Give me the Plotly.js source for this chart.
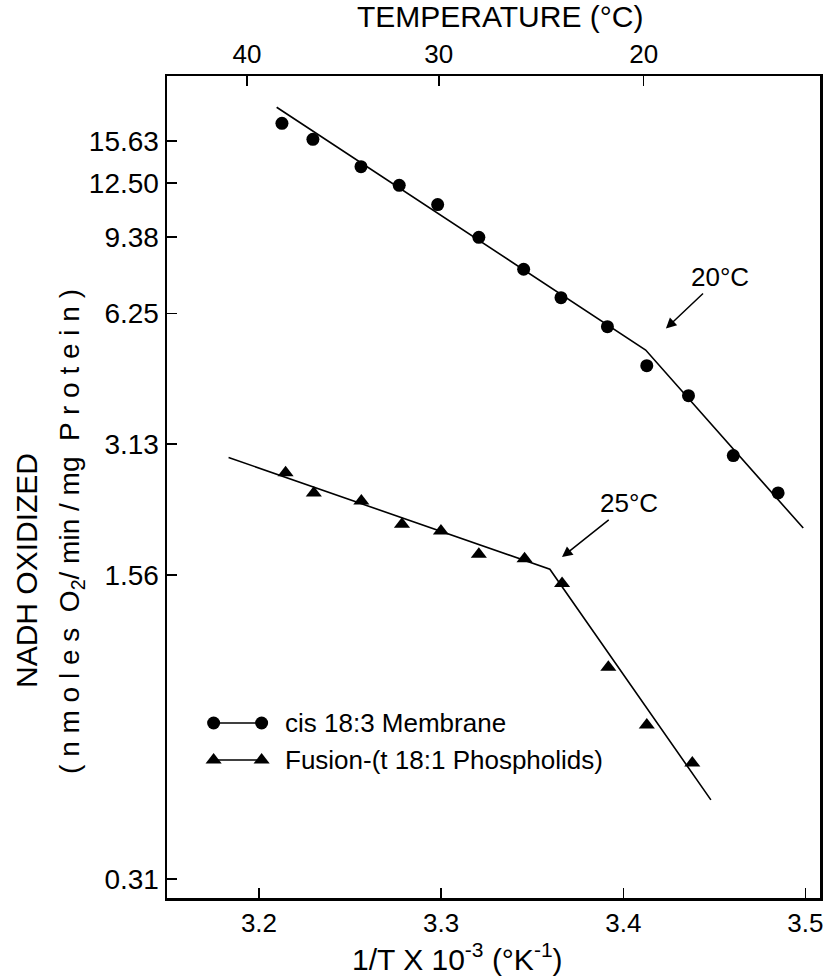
<!DOCTYPE html>
<html>
<head>
<meta charset="utf-8">
<script src="https://cdn.plot.ly/plotly-3.0.1.min.js"></script>
<style>html,body{margin:0;padding:0;background:#fff;}</style>
</head>
<body>
<div id="chart" style="width:835px;height:977px;"></div>
<script>
// ---- data (x = 1/T x 10^3, y = NADH oxidized rate) ----
var cisX = [3.2126, 3.2296, 3.2560, 3.2770, 3.2981, 3.3207, 3.3453, 3.3658, 3.3913, 3.4129, 3.4358, 3.4604, 3.4850];
var cisY = [17.17, 15.77, 13.64, 12.35, 11.15, 9.37, 7.91, 6.80, 5.83, 4.74, 4.04, 2.94, 2.41];
var cisFitX = [3.2097, 3.4123, 3.4988];
var cisFitY = [18.70, 5.15, 2.00];

var fusX = [3.2146, 3.2301, 3.2562, 3.2785, 3.2999, 3.3207, 3.3458, 3.3664, 3.3918, 3.4129, 3.4379];
var fusY = [2.685, 2.41, 2.31, 2.04, 1.97, 1.74, 1.70, 1.49, 0.955, 0.703, 0.574];
var fusFitX = [3.1833, 3.3597, 3.4481];
var fusFitY = [2.91, 1.607, 0.472];

var xTickVals = [3.2, 3.3, 3.4, 3.5];
var xTickText = ['3.2', '3.3', '3.4', '3.5'];
var yTickVals = [0.31, 1.56, 3.13, 6.25, 9.38, 12.50, 15.63];
var yTickText = ['0.31', '1.56', '3.13', '6.25', '9.38', '12.50', '15.63'];
var tempC = [40, 30, 20];
var tempText = ['40', '30', '20'];
var seriesNames = ['cis 18:3 Membrane', 'Fusion-(t 18:1 Phospholids)'];
var breakLabels = ['20°C', '25°C'];
var breakX = [3.4226, 3.3655];
var breakY = [5.73, 1.703];

// ---- build ----
var topTickVals = tempC.map(function (t) { return 1000 / (t + 273.15); });
var xRange = [3.1495, 3.508];
var FONT = 'Liberation Sans, Arial, sans-serif';

var traces = [
  {x: cisFitX, y: cisFitY, mode: 'lines', line: {color: '#000', width: 1.6}, hoverinfo: 'skip'},
  {x: fusFitX, y: fusFitY, mode: 'lines', line: {color: '#000', width: 1.6}, hoverinfo: 'skip'},
  {x: cisX, y: cisY, mode: 'markers', name: seriesNames[0], marker: {symbol: 'circle', size: 13, color: '#000'}},
  {x: fusX, y: fusY, mode: 'markers', name: seriesNames[1], marker: {symbol: 'triangle-up', size: 14, color: '#000'}},
  // invisible trace to bind the top temperature axis
  {x: topTickVals, y: [1, 1, 1], xaxis: 'x2', yaxis: 'y', mode: 'markers', marker: {opacity: 0}, hoverinfo: 'skip'},
  // legend samples (drawn in a unit overlay axis)
  {x: [0.0714, 0.1449], y: [0.2129, 0.2129], xaxis: 'x3', yaxis: 'y3', mode: 'lines+markers',
   line: {color: '#000', width: 1.6}, marker: {symbol: 'circle', size: 13, color: '#000'}, hoverinfo: 'skip'},
  {x: [0.0714, 0.1449], y: [0.1679, 0.1679], xaxis: 'x3', yaxis: 'y3', mode: 'lines+markers',
   line: {color: '#000', width: 1.6}, marker: {symbol: 'triangle-up', size: 14, color: '#000'}, hoverinfo: 'skip'}
];

var annotations = [
  {xref: 'paper', yref: 'paper', x: 0.51, y: 1.072, text: 'TEMPERATURE (°C)', showarrow: false,
   font: {size: 30, family: FONT, color: '#000'}, xanchor: 'center', yanchor: 'middle'},
  {xref: 'paper', yref: 'paper', x: 0.4456, y: -0.0718, text: '1/T X 10<sup>-3</sup> (°K<sup>-1</sup>)', showarrow: false,
   font: {size: 30, family: FONT, color: '#000'}, xanchor: 'center', yanchor: 'middle'},
  {xref: 'paper', yref: 'paper', x: -0.2159, y: 0.3978, text: 'NADH OXIDIZED', textangle: -90, showarrow: false,
   font: {size: 30, family: FONT, color: '#000'}, xanchor: 'center', yanchor: 'middle'},
  {xref: 'paper', yref: 'paper', x: -0.1455, y: 0.4465,
   text: '( n m o l e s  O<sub>2</sub>/ min / mg  P r o t e i n )', textangle: -90, showarrow: false,
   font: {size: 28, family: FONT, color: '#000'}, xanchor: 'center', yanchor: 'middle'},
  {xref: 'paper', yref: 'paper', x: 0.1776, y: 0.2129, text: seriesNames[0], showarrow: false,
   font: {size: 26, family: FONT, color: '#000'}, xanchor: 'left', yanchor: 'middle'},
  {xref: 'paper', yref: 'paper', x: 0.1776, y: 0.1679, text: seriesNames[1], showarrow: false,
   font: {size: 26, family: FONT, color: '#000'}, xanchor: 'left', yanchor: 'middle'},
  {xref: 'x', yref: 'y', x: breakX[0], y: Math.log10(breakY[0]), text: breakLabels[0], showarrow: true,
   ax: 56, ay: -53, arrowhead: 2, arrowsize: 1.4, arrowwidth: 1.5, arrowcolor: '#000', standoff: 2,
   font: {size: 26, family: FONT, color: '#000'}},
  {xref: 'x', yref: 'y', x: breakX[1], y: Math.log10(breakY[1]), text: breakLabels[1], showarrow: true,
   ax: 69, ay: -55, arrowhead: 2, arrowsize: 1.4, arrowwidth: 1.5, arrowcolor: '#000', standoff: 2,
   font: {size: 26, family: FONT, color: '#000'}}
];

var layout = {
  width: 835, height: 977,
  margin: {l: 167, r: 15, t: 76, b: 79, pad: 0},
  paper_bgcolor: '#fff', plot_bgcolor: '#fff',
  showlegend: false,
  font: {family: FONT, color: '#000'},
  xaxis: {
    range: xRange, tickmode: 'array', tickvals: xTickVals, ticktext: xTickText,
    ticks: 'inside', ticklen: 10, tickwidth: 1.5, tickcolor: '#000',
    showline: true, linewidth: 2.5, linecolor: '#000', mirror: false,
    showgrid: false, zeroline: false, tickfont: {size: 26, family: FONT}
  },
  xaxis2: {
    overlaying: 'x', side: 'top', anchor: 'y', range: xRange,
    tickmode: 'array', tickvals: topTickVals, ticktext: tempText,
    ticks: 'inside', ticklen: 10, tickwidth: 1.5, tickcolor: '#000',
    showline: true, linewidth: 2.5, linecolor: '#000',
    showgrid: false, zeroline: false, tickfont: {size: 26, family: FONT}
  },
  yaxis: {
    type: 'log', range: [-0.5524, 1.344], tickmode: 'array', tickvals: yTickVals, ticktext: yTickText,
    ticks: 'inside', ticklen: 10, tickwidth: 1.5, tickcolor: '#000',
    showline: true, linewidth: 2.5, linecolor: '#000', mirror: true,
    showgrid: false, zeroline: false, tickfont: {size: 28, family: FONT}
  },
  xaxis3: {overlaying: 'x', anchor: 'y3', range: [0, 1], visible: false, fixedrange: true},
  yaxis3: {overlaying: 'y', anchor: 'x3', range: [0, 1], visible: false, fixedrange: true},
  annotations: annotations
};

Plotly.newPlot('chart', traces, layout, {staticPlot: true, displayModeBar: false});
</script>
</body>
</html>
